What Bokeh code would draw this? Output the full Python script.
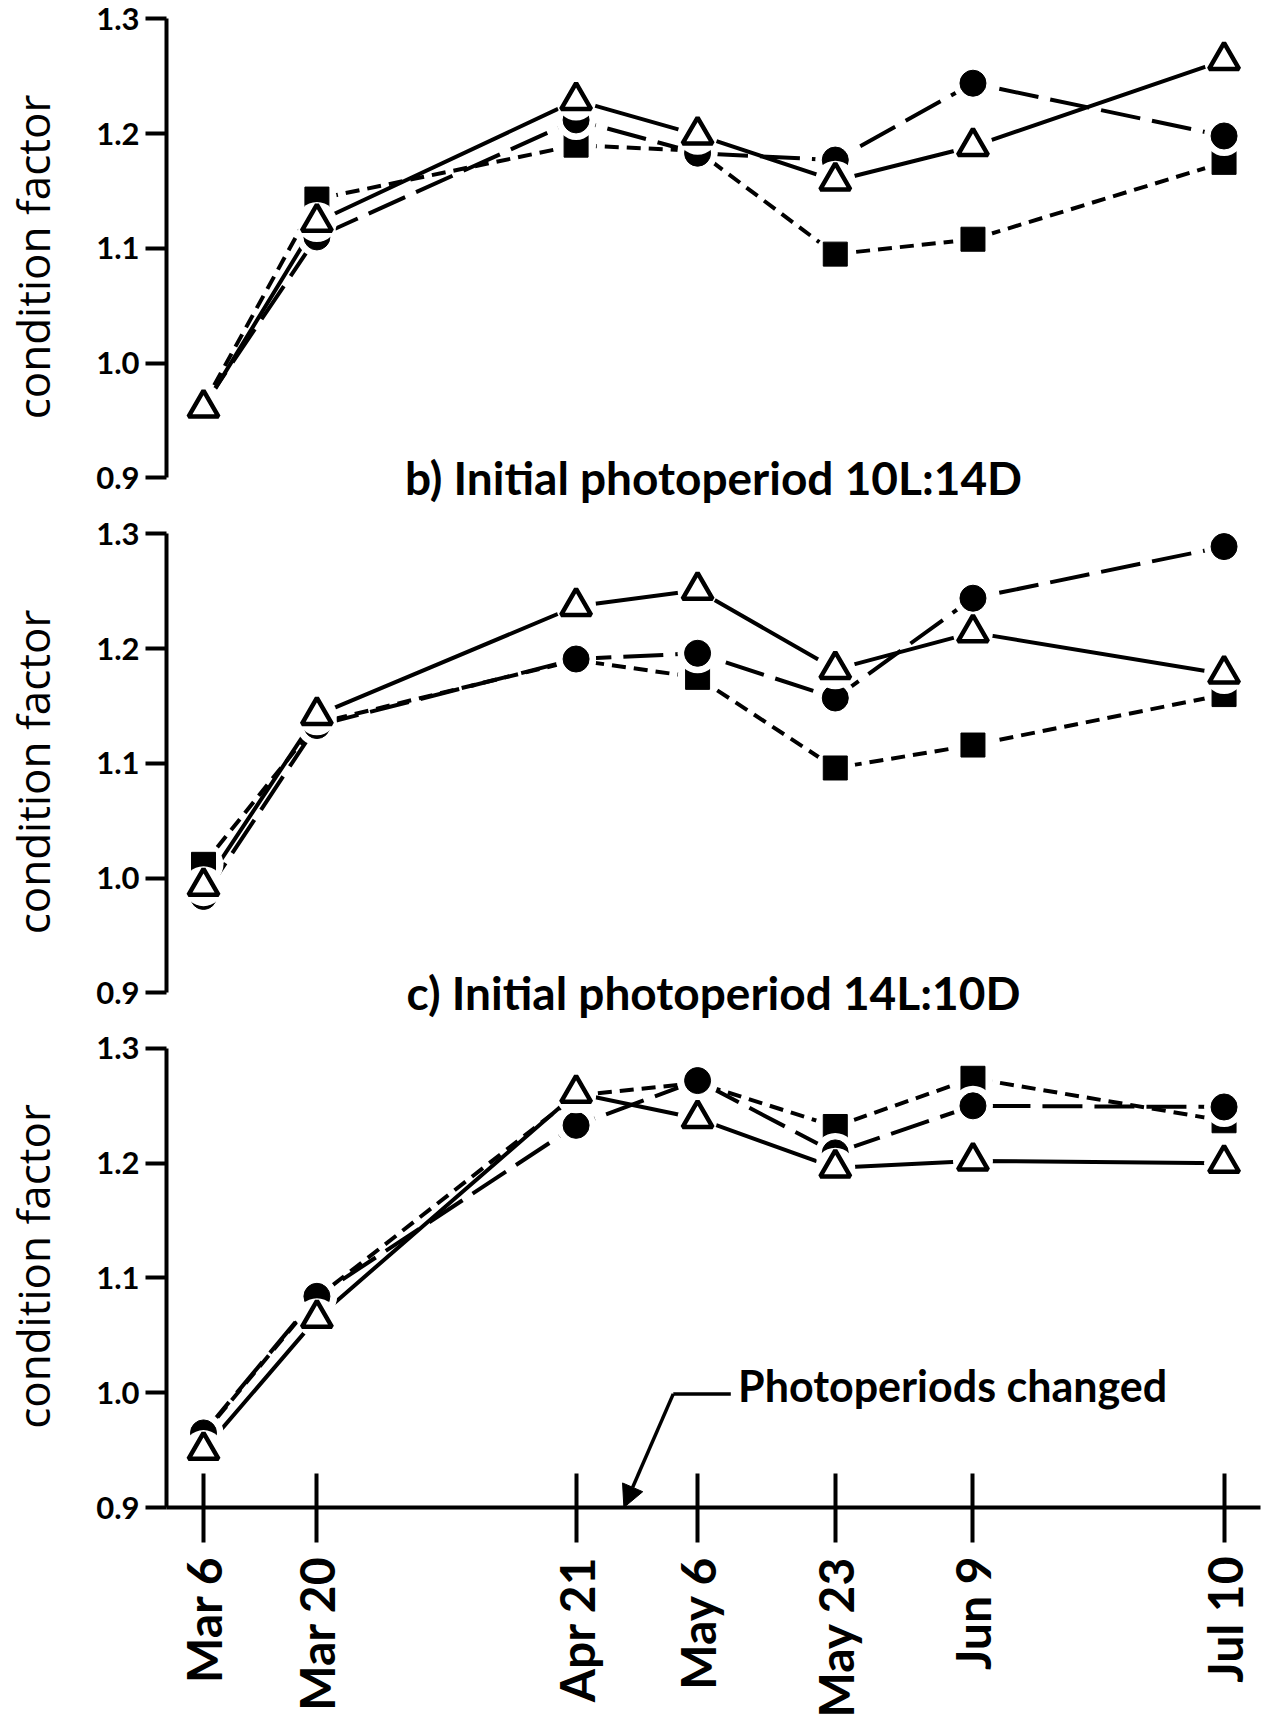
import math

from bokeh.plotting import figure
from bokeh.layouts import column
from bokeh.models import FixedTicker, Label, Arrow, NormalHead
from bokeh.embed import file_html
from bokeh.resources import INLINE

# Sampling dates and their day of year
dates = ["Mar 6", "Mar 20", "Apr 21", "May 6", "May 23", "Jun 9", "Jul 10"]
day_of_year = [65, 79, 111, 126, 143, 160, 191]

# Condition factor, panel a
a_circle = [0.963, 1.110, 1.212, 1.183, 1.177, 1.244, 1.198]
a_square = [0.964, 1.143, 1.190, 1.185, 1.095, 1.108, 1.175]
a_triangle = [0.961, 1.123, 1.229, 1.199, 1.159, 1.189, 1.264]

# Condition factor, panel b (initial photoperiod 10L:14D)
b_circle = [0.984, 1.133, 1.191, 1.196, 1.157, 1.244, 1.289]
b_square = [1.012, 1.135, 1.190, 1.175, 1.096, 1.116, 1.160]
b_triangle = [0.993, 1.142, 1.237, 1.251, 1.182, 1.214, 1.178]

# Condition factor, panel c (initial photoperiod 14L:10D)
c_circle = [0.965, 1.084, 1.233, 1.272, 1.209, 1.250, 1.249]
c_square = [0.964, 1.083, 1.259, 1.270, 1.232, 1.274, 1.237]
c_triangle = [0.950, 1.065, 1.261, 1.239, 1.196, 1.202, 1.200]

y_ticks = [0.9, 1.0, 1.1, 1.2, 1.3]
y_tick_labels = ["0.9", "1.0", "1.1", "1.2", "1.3"]

title_b = "b) Initial photoperiod 10L:14D"
title_c = "c) Initial photoperiod 14L:10D"
y_label = "condition factor"

# day on which the photoperiods were changed
change_day = 116.9
change_note = "Photoperiods changed"

INK = "black"
X_START, X_END = 60.43, 195.5
FRAME_W = 1094
BOLD = "Lato"

STYLES = {
    "square": dict(dash="14 8", marker="square", size=24, fill=INK, lw=1),
    "circle": dict(dash="40 12", marker="circle", size=26, fill=INK, lw=1),
    "triangle": dict(dash="solid", marker="triangle", size=30, fill="white", lw=4.5),
}


def make_panel(series, y_range, frame_h, top, bottom, x_axis=False, y_bounds=(0.9, 1.3)):
    p = figure(
        output_backend="svg", toolbar_location=None,
        x_range=(X_START, X_END), y_range=y_range,
        frame_width=FRAME_W, frame_height=frame_h,
        min_border_left=161, min_border_right=11,
        min_border_top=top, min_border_bottom=bottom,
        x_axis_location="below" if x_axis else None,
    )
    p.outline_line_color = None
    p.grid.visible = False
    p.background_fill_color = "white"
    p.border_fill_color = "white"

    ax = p.yaxis[0]
    ax.bounds = y_bounds
    ax.ticker = FixedTicker(ticks=y_ticks)
    ax.major_label_overrides = dict(zip(y_ticks, y_tick_labels))
    ax.axis_line_width = 4
    ax.axis_line_color = INK
    ax.major_tick_line_width = 4
    ax.major_tick_out = 21
    ax.major_tick_in = 0
    ax.minor_tick_line_color = None
    ax.major_label_standoff = 6
    ax.major_label_text_font = BOLD
    ax.major_label_text_font_style = "bold"
    ax.major_label_text_font_size = "31px"
    ax.major_label_text_color = INK
    ax.axis_label = y_label
    ax.axis_label_text_font = "Open Sans"
    ax.axis_label_text_font_style = "normal"
    ax.axis_label_text_font_size = "44px"
    ax.axis_label_text_color = INK
    ax.axis_label_standoff = 30

    if x_axis:
        xa = p.xaxis[0]
        xa.ticker = FixedTicker(ticks=day_of_year)
        xa.major_label_overrides = dict(zip(day_of_year, dates))
        # labels read upward, ending next to their tick
        xa.major_label_orientation = math.pi / 2
        xa.axis_line_width = 4
        xa.axis_line_color = INK
        xa.major_tick_line_width = 4
        xa.major_tick_out = 35
        xa.major_tick_in = 34
        xa.minor_tick_line_color = None
        xa.major_label_standoff = 14
        xa.major_label_text_font = BOLD
        xa.major_label_text_font_style = "bold"
        xa.major_label_text_font_size = "48px"
        xa.major_label_text_color = INK

    for key in ("square", "circle", "triangle"):
        st = STYLES[key]
        p.line(day_of_year, series[key], line_color=INK, line_width=4,
               line_dash=st["dash"], line_cap="butt")
    for key in ("square", "circle", "triangle"):
        st = STYLES[key]
        p.scatter(day_of_year, series[key], marker="circle", size=40,
                  fill_color="white", line_color=None)
        p.scatter(day_of_year, series[key], marker=st["marker"], size=st["size"],
                  fill_color=st["fill"], line_color=INK, line_width=st["lw"])
    return p


def add_title(p, text):
    p.add_layout(Label(x=(X_START + X_END) / 2, y=0.9, text=text,
                       text_align="center", text_baseline="middle",
                       text_font=BOLD, text_font_style="bold",
                       text_font_size="46px", text_color=INK))


pa = make_panel({"circle": a_circle, "square": a_square, "triangle": a_triangle},
                (0.875, 1.31), 499, 7, 0)
add_title(pa, title_b)

pb = make_panel({"circle": b_circle, "square": b_square, "triangle": b_triangle},
                (0.875, 1.31), 499, 16, 0)
add_title(pb, title_c)

pc = make_panel({"circle": c_circle, "square": c_square, "triangle": c_triangle},
                (0.9, 1.32), 482, 4, 208, x_axis=True, y_bounds=(0.886, 1.3))

# leader from the note down to the axis
elbow_x, elbow_y = change_day + 6.1, 0.999
note_x = change_day + 14.1
pc.line([elbow_x, note_x - 0.9], [elbow_y, elbow_y], line_color=INK, line_width=3.5)
pc.add_layout(Arrow(end=NormalHead(size=22, fill_color=INK, line_color=INK),
                    x_start=elbow_x, y_start=elbow_y, x_end=change_day, y_end=0.9,
                    line_color=INK, line_width=3.5))
pc.add_layout(Label(x=note_x, y=1.006, text=change_note, text_align="left",
                    text_baseline="alphabetic", text_font=BOLD,
                    text_font_style="bold", text_font_size="43px", text_color=INK))

layout = column(pa, pb, pc, spacing=0)
open("out.html", "w").write(file_html(layout, INLINE))
